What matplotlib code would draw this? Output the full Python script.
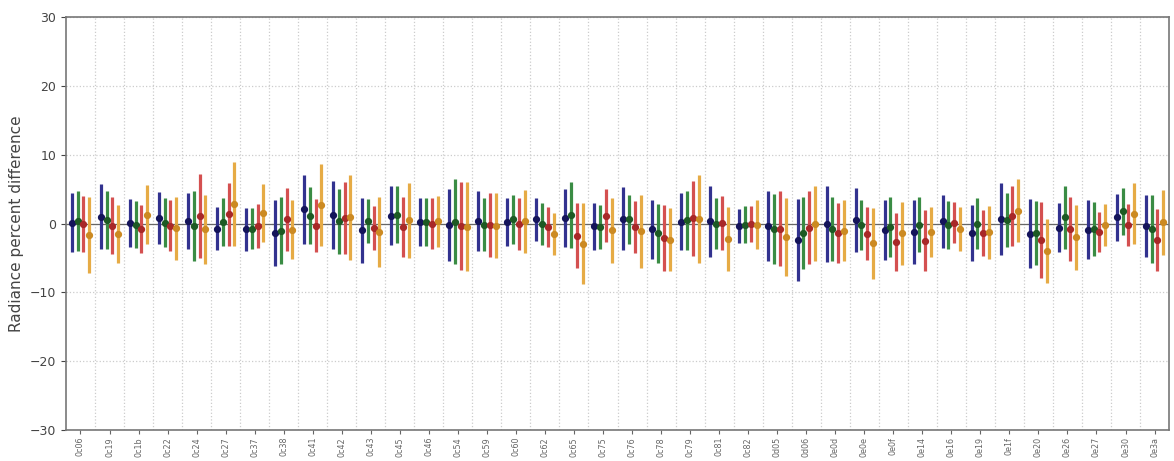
import numpy as np
import matplotlib
matplotlib.use("Agg")
import matplotlib.pyplot as plt

labels = ['0c06', '0c19', '0c1b', '0c22', '0c24', '0c27', '0c37', '0c38', '0c41', '0c42',
          '0c43', '0c45', '0c46', '0c54', '0c59', '0c60', '0c62', '0c65', '0c75', '0c76',
          '0c78', '0c79', '0c81', '0c82', '0d05', '0d06', '0e0d', '0e0e', '0e0f', '0e14',
          '0e16', '0e19', '0e1f', '0e20', '0e26', '0e27', '0e30', '0e3a']

# mean percent difference and error half-width for each of the four series
blue_mean = [0.15, 1.0, 0.1, 0.85, 0.4, -0.75, -0.85, -1.4, 2.05, 1.25,
             -1.0, 1.15, 0.2, -0.25, 0.4, 0.25, 0.6, 0.8, -0.4, 0.7,
             -0.85, 0.25, 0.35, -0.4, -0.3, -2.45, -0.1, 0.5, -0.95, -1.25,
             0.35, -1.4, 0.7, -1.45, -0.6, -0.9, 0.9, -0.3]
blue_err = [4.35, 4.75, 3.45, 3.8, 4.1, 3.15, 3.1, 4.8, 5.05, 4.95,
            4.75, 4.25, 3.5, 5.25, 4.4, 3.45, 3.1, 4.2, 3.4, 4.6,
            4.3, 4.15, 5.15, 2.5, 5.1, 5.95, 5.55, 4.7, 4.35, 4.65,
            3.85, 4.1, 5.2, 4.95, 3.6, 4.25, 3.4, 4.5]

green_mean = [0.4, 0.5, -0.15, 0.1, -0.3, 0.2, -0.75, -1.05, 1.15, 0.3,
              0.3, 1.3, 0.2, 0.25, -0.15, 0.6, -0.05, 1.25, -0.5, 0.6,
              -1.4, 0.45, 0.0, -0.15, -0.8, -1.35, -0.75, -0.25, -0.5, -0.15,
              -0.2, 0.0, 0.55, -1.35, 0.9, -0.75, 1.75, -0.75]
green_err = [4.4, 4.2, 3.4, 3.55, 5.1, 3.5, 2.95, 4.85, 4.15, 4.7,
             3.2, 4.2, 3.5, 6.15, 3.85, 3.6, 3.05, 4.75, 3.2, 3.6,
             4.3, 4.35, 3.7, 2.75, 5.1, 5.25, 4.65, 3.65, 4.4, 4.05,
             3.5, 3.7, 3.95, 4.65, 4.6, 3.95, 3.45, 4.95]

red_mean = [-0.1, -0.3, -0.8, -0.3, 1.1, 1.35, -0.3, 0.6, -0.35, 0.8,
            -0.65, -0.5, 0.0, -0.4, -0.25, -0.05, -0.5, -1.75, 1.15, -0.5,
            -2.1, 0.75, 0.05, -0.1, -0.75, -0.6, -1.35, -1.45, -2.7, -2.5,
            0.1, -1.4, 1.15, -2.4, -0.85, -1.25, -0.15, -2.4]
red_err = [4.1, 4.1, 3.5, 3.7, 6.15, 4.55, 3.2, 4.6, 3.85, 5.2,
           3.25, 4.4, 3.7, 6.4, 4.65, 3.75, 2.85, 4.75, 3.85, 3.8,
           4.8, 5.45, 3.95, 2.6, 5.45, 5.3, 4.35, 3.85, 4.2, 4.4,
           3.0, 3.3, 4.35, 5.5, 4.65, 2.95, 3.05, 4.5]

orange_mean = [-1.7, -1.5, 1.3, -0.7, -0.85, 2.85, 1.55, -0.9, 2.7, 0.9,
               -1.25, 0.45, 0.3, -0.45, -0.3, 0.3, -1.5, -2.95, -1.0, -1.1,
               -2.35, 0.7, -2.25, -0.15, -1.95, 0.0, -1.05, -2.9, -1.4, -1.25,
               -0.8, -1.3, 1.85, -3.95, -2.0, -0.15, 1.45, 0.2]
orange_err = [5.5, 4.25, 4.3, 4.6, 5.05, 6.05, 4.25, 4.3, 5.9, 6.2,
              5.05, 5.45, 3.7, 6.45, 4.7, 4.6, 3.0, 5.9, 4.7, 5.3,
              4.55, 6.4, 4.65, 3.55, 5.65, 5.5, 4.45, 5.1, 4.6, 3.65,
              3.2, 3.9, 4.55, 4.65, 4.7, 3.05, 4.45, 4.7]

series = [
    (blue_mean, blue_err, '#32328f', '#14145a'),
    (green_mean, green_err, '#3a8c44', '#1d5a24'),
    (red_mean, red_err, '#d45050', '#a82828'),
    (orange_mean, orange_err, '#e6ab45', '#cc8a22'),
]
offsets = [-0.3, -0.1, 0.1, 0.3]

fig = plt.figure(figsize=(11.74, 4.61), dpi=100)
ax = fig.add_axes([0.0562, 0.0672, 0.9396, 0.8958])

x = np.arange(len(labels))
for (mean, err, col, mcol), off in zip(series, offsets):
    ax.errorbar(x + off, mean, yerr=err, fmt='o', color=col, ecolor=col,
                mfc=mcol, mec=mcol, ms=4.2, elinewidth=2.3, capsize=0, zorder=3)

ax.axhline(0, color='#666666', lw=0.9, zorder=2)

ax.set_xlim(-0.5, len(labels) - 0.5)
ax.set_ylim(-30, 30)
ax.set_yticks([-30, -20, -10, 0, 10, 20, 30])
ax.set_xticks(x)
ax.set_xticklabels(labels, rotation=90, fontsize=5.8, color='#444444')
ax.set_xticks(x[:-1] + 0.5, minor=True)
ax.tick_params(axis='x', which='minor', length=0)
ax.tick_params(axis='y', labelsize=9, colors='#444444')
ax.tick_params(axis='x', which='major', colors='#666666', length=3, pad=2)

ax.grid(axis='x', which='minor', color='#cccccc', linestyle=':', lw=0.9)
ax.grid(axis='y', which='major', color='#cccccc', linestyle=':', lw=0.9)

ax.set_ylabel('Radiance percent difference', fontsize=11, color='#444444')
for s in ax.spines.values():
    s.set_color('#777777')
    s.set_linewidth(1.2)

fig.savefig('out.png', dpi=100)
